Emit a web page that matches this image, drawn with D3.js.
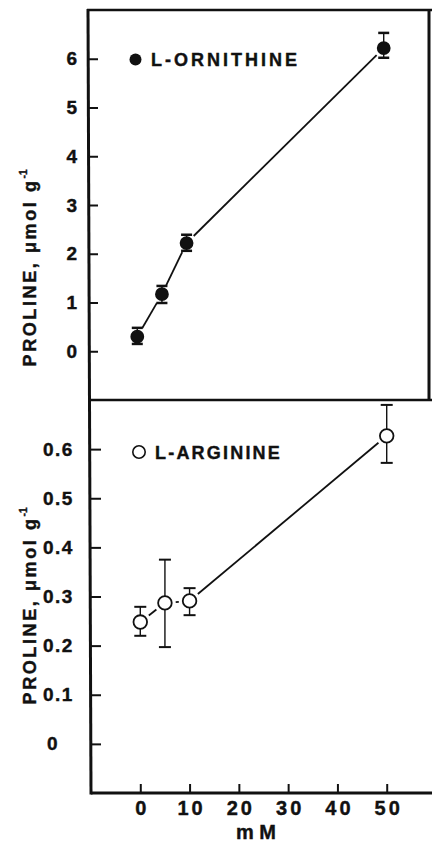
<!DOCTYPE html>
<html>
<head>
<meta charset="utf-8">
<script src="https://cdn.jsdelivr.net/npm/d3@7"></script>
<style>
  body { margin: 0; background: #fff; }
  svg { display: block; }
  text { font-family: "Liberation Sans", Arial, sans-serif; font-weight: bold; fill: #111; stroke: #111; stroke-width: 0.4px; }
</style>
</head>
<body>
<script>
(function(){

    // concentrations (mM)
    var doses = [0, 5, 10, 50];

    // L-ornithine (top panel)
    var ornMean = [0.3, 1.17, 2.22, 6.22];
    var ornLow  = [0.15, 0.99, 2.06, 6.02];
    var ornHigh = [0.48, 1.34, 2.39, 6.53];

    // L-arginine (bottom panel)
    var argMean = [0.248, 0.287, 0.291, 0.627];
    var argLow  = [0.22, 0.197, 0.262, 0.572];
    var argHigh = [0.279, 0.375, 0.317, 0.69];

    var xTicks = [0, 10, 20, 30, 40, 50];
    var yTicksTop = [0, 1, 2, 3, 4, 5, 6];
    var yTicksBottom = [0, 0.1, 0.2, 0.3, 0.4, 0.5, 0.6];

    var width = 432,
        height = 842;

    var svg = d3.select("body")
        .append("svg")
        .attr("width", width)
        .attr("height", height);

    // the scanned panels are slightly skewed, so each gets its own x range
    var xTop = d3.scaleLinear()
        .domain([-10, 60])
        .range([88, 433]);

    var xBot = d3.scaleLinear()
        .domain([-10, 60])
        .range([91, 436]);

    var yTop = d3.scaleLinear()
        .domain([-1, 7])
        .range([400, 10]);

    var yBot = d3.scaleLinear()
        .domain([-0.1, 0.7])
        .range([793, 400]);

    // frame lines
    var frame = svg.append("g")
        .attr("stroke", "#111")
        .attr("fill", "none");
    frame.append("line")
        .attr("x1", xTop(-10)).attr("x2", xBot(-10))
        .attr("y1", yTop(7) - 1).attr("y2", yBot(-0.1) + 1.5)
        .attr("stroke-width", 3);
    frame.append("line")
        .attr("x1", 429).attr("x2", 429)
        .attr("y1", yTop(7) - 1).attr("y2", yTop(-1))
        .attr("stroke-width", 3);
    frame.append("line")
        .attr("x1", xTop(-10) - 1).attr("x2", width)
        .attr("y1", yTop(7)).attr("y2", yTop(7))
        .attr("stroke-width", 2.5);
    frame.append("line")
        .attr("x1", xTop(-10)).attr("x2", width)
        .attr("y1", yTop(-1)).attr("y2", yTop(-1))
        .attr("stroke-width", 2.5);
    frame.append("line")
        .attr("x1", xBot(-10)).attr("x2", width)
        .attr("y1", yBot(-0.1)).attr("y2", yBot(-0.1))
        .attr("stroke-width", 3);

    // y axes
    var axisTop = svg.append("g")
        .attr("transform", "translate(" + xTop(-10) + ",0)")
        .call(d3.axisLeft(yTop)
            .tickValues(yTicksTop)
            .tickSize(-10)
            .tickPadding(11)
            .tickFormat(d3.format("d")));

    var axisBot = svg.append("g")
        .attr("transform", "translate(" + xBot(-10) + ",0)")
        .call(d3.axisLeft(yBot)
            .tickValues(yTicksBottom)
            .tickSize(-10)
            .tickPadding(11)
            .tickFormat(function(d) { return d === 0 ? "0" : d.toFixed(1); }));

    axisBot.selectAll("text")
        .attr("text-anchor", "start")
        .attr("x", function(d) { return d === 0 ? -44 : -48; });

    var xAxis = svg.append("g")
        .attr("transform", "translate(0," + yBot(-0.1) + ")")
        .call(d3.axisBottom(xBot)
            .tickValues(xTicks)
            .tickSize(-9)
            .tickPadding(8)
            .tickFormat(d3.format("d")));

    [axisTop, axisBot, xAxis].forEach(function(ax) {
        ax.select(".domain").remove();
        ax.selectAll(".tick line")
            .attr("stroke", "#111")
            .attr("stroke-width", 2);
        ax.selectAll("text")
            .attr("font-family", "'Liberation Sans', Arial, sans-serif")
            .attr("font-weight", "bold")
            .attr("fill", "#111");
    });
    axisTop.selectAll("text").attr("font-size", 19);
    axisBot.selectAll("text")
        .attr("font-size", 19)
        .attr("letter-spacing", 1.5);
    xAxis.selectAll("text")
        .attr("font-size", 20)
        .attr("letter-spacing", 3)
        .attr("dx", 1.5);

    // x axis title
    svg.append("text")
        .attr("x", 256)
        .attr("y", 839)
        .attr("text-anchor", "middle")
        .attr("font-size", 20)
        .text("m M");

    // y axis titles
    function yTitle(cy) {
        var t = svg.append("text")
            .attr("transform", "translate(36," + cy + ") rotate(-90)")
            .attr("text-anchor", "middle")
            .attr("font-size", 18)
            .attr("letter-spacing", 2.6);
        t.append("tspan").text("PROLINE, \u03bcmol g");
        t.append("tspan")
            .attr("font-size", 10)
            .attr("letter-spacing", 0)
            .attr("dy", -9)
            .text("-1");
    }
    yTitle(268);
    yTitle(606);

    // draw a series: line segments with gaps, error bars, markers
    function drawSeries(x, y, mean, low, high, r, filled, capW, capS) {
        var g = svg.append("g");
        var pts = doses.map(function(d, i) {
            return { x: x(d), y: y(mean[i]), lo: y(low[i]), hi: y(high[i]) };
        });

        var gap = r + 4;
        for (var i = 0; i < pts.length - 1; i++) {
            var a = pts[i], b = pts[i + 1];
            var dx = b.x - a.x, dy = b.y - a.y;
            var len = Math.sqrt(dx * dx + dy * dy);
            var ux = dx / len, uy = dy / len;
            g.append("line")
                .attr("x1", a.x + ux * gap).attr("y1", a.y + uy * gap)
                .attr("x2", b.x - ux * gap).attr("y2", b.y - uy * gap)
                .attr("stroke", "#111")
                .attr("stroke-width", 1.8);
        }

        var eb = g.selectAll(".err")
            .data(pts)
            .enter()
            .append("g")
            .attr("class", "err")
            .attr("stroke", "#111");
        eb.append("line")
            .attr("stroke-width", 1.4)
            .attr("x1", function(d) { return d.x; })
            .attr("x2", function(d) { return d.x; })
            .attr("y1", function(d) { return d.lo; })
            .attr("y2", function(d) { return d.hi; });
        eb.append("line")
            .attr("stroke-width", capS)
            .attr("x1", function(d) { return d.x - capW / 2; })
            .attr("x2", function(d) { return d.x + capW / 2; })
            .attr("y1", function(d) { return d.hi; })
            .attr("y2", function(d) { return d.hi; });
        eb.append("line")
            .attr("stroke-width", capS)
            .attr("x1", function(d) { return d.x - capW / 2; })
            .attr("x2", function(d) { return d.x + capW / 2; })
            .attr("y1", function(d) { return d.lo; })
            .attr("y2", function(d) { return d.lo; });

        g.selectAll(".dot")
            .data(pts)
            .enter()
            .append("circle")
            .attr("class", "dot")
            .attr("cx", function(d) { return d.x; })
            .attr("cy", function(d) { return d.y; })
            .attr("r", r)
            .attr("fill", filled ? "#111" : "#fff")
            .attr("stroke", "#111")
            .attr("stroke-width", 1.8);
    }

    drawSeries(xTop, yTop, ornMean, ornLow, ornHigh, 6, true, 11, 2.5);
    drawSeries(xBot, yBot, argMean, argLow, argHigh, 6.8, false, 12, 2);

    // legends
    svg.append("circle")
        .attr("cx", 135.5).attr("cy", 59.5).attr("r", 6)
        .attr("fill", "#111");
    svg.append("text")
        .attr("x", 151).attr("y", 66)
        .attr("font-size", 18)
        .attr("letter-spacing", 3)
        .text("L-ORNITHINE");

    svg.append("circle")
        .attr("cx", 139).attr("cy", 452).attr("r", 6.2)
        .attr("fill", "#fff")
        .attr("stroke", "#111")
        .attr("stroke-width", 1.6);
    svg.append("text")
        .attr("x", 155).attr("y", 458.5)
        .attr("font-size", 18)
        .attr("letter-spacing", 2.2)
        .text("L-ARGININE");

})();
</script>
</body>
</html>
